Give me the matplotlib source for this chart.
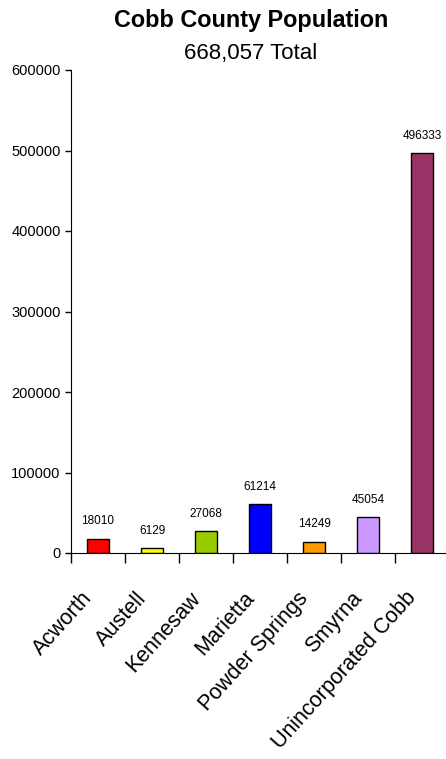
import numpy as np
import matplotlib.pyplot as plt
import matplotlib.transforms as mtransforms

# Cobb County population by city
cities = ["Acworth", "Austell", "Kennesaw", "Marietta", "Powder Springs",
          "Smyrna", "Unincorporated Cobb"]
population = [18010, 6129, 27068, 61214, 14249, 45054, 496333]
colors = ["#FF0000", "#FFFF00", "#99CC00", "#0000FF", "#FF9900",
          "#CC99FF", "#993366"]
yticks = [0, 100000, 200000, 300000, 400000, 500000, 600000]

plt.rcParams['font.family'] = ['Liberation Sans', 'DejaVu Sans']

fig = plt.figure(figsize=(4.46, 7.59), dpi=100)
ax = fig.add_axes([71/446, 1-553/759, 378/446, (553-70)/759])

x = np.arange(len(cities))
bars = ax.bar(x, population, width=0.41, color=colors, edgecolor="black", linewidth=1)

# value labels above each bar
for xi, v in zip(x, population):
    ax.annotate(str(v), (xi, v), xytext=(0, 8), textcoords="offset points",
                ha="center", va="bottom", fontsize=8.5)

ax.set_xlim(-0.5, len(cities) - 0.5)
ax.set_ylim(0, 600000)
ax.set_yticks(yticks)
ax.set_yticklabels([str(t) for t in yticks], fontsize=10.5)
ax.tick_params(axis="y", direction="out", length=4, width=1)

# ticks between categories, labels at centres
ax.set_xticks(np.arange(len(cities) + 1) - 0.5)
ax.set_xticklabels([])
ax.tick_params(axis="x", direction="out", length=7, width=1)
ax.set_xticks(x, minor=True)
ax.set_xticklabels(cities, minor=True, rotation=48, ha="right",
                   rotation_mode="anchor", fontsize=15.5)
ax.tick_params(axis="x", which="minor", length=0, pad=25)
shift = mtransforms.ScaledTranslation(-0.17, 0, fig.dpi_scale_trans)
for lbl in ax.get_xticklabels(minor=True):
    lbl.set_transform(lbl.get_transform() + shift)

for s in ["top", "right"]:
    ax.spines[s].set_visible(False)

fig.text(251/446, 1-21/759, "Cobb County Population", ha="center", va="center",
         fontsize=16.8, fontweight="bold")
fig.text(251/446, 1-54/759, "668,057 Total", ha="center", va="center", fontsize=16)

fig.savefig("out.png", dpi=100)
